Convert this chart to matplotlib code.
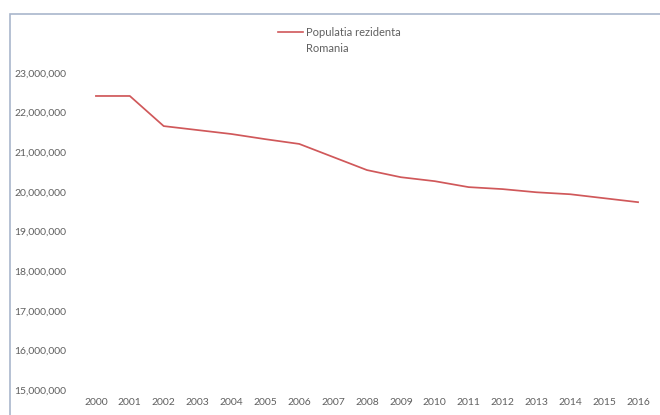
import matplotlib.pyplot as plt
from matplotlib.lines import Line2D
from matplotlib.patches import Rectangle
from matplotlib.ticker import FuncFormatter

plt.rcParams['font.family'] = ['Lato', 'DejaVu Sans']

years = list(range(2000, 2017))
populatie = [22.42e6, 22.42e6, 21.66e6, 21.56e6, 21.46e6, 21.33e6, 21.21e6,
             20.88e6, 20.55e6, 20.37e6, 20.27e6, 20.12e6, 20.07e6, 19.99e6,
             19.94e6, 19.84e6, 19.74e6]
yticks = [15e6, 16e6, 17e6, 18e6, 19e6, 20e6, 21e6, 22e6, 23e6]

W, H = 660, 415
fig = plt.figure(figsize=(6.6, 4.15), dpi=100)

# chart border (runs off bottom/right like the scan)
fig.add_artist(Rectangle((10 / W, -0.05), 1.1, 1 - 14 / H + 0.05,
                         transform=fig.transFigure, fill=False,
                         edgecolor='#a9b6cc', linewidth=1.2))

ax = fig.add_axes([79 / W, 1 - 390 / H, 576 / W, 317 / H])
line_col = '#d0585a'
txt_col = '#606060'

ax.plot(years, populatie, color=line_col, linewidth=1.25)
ax.set_xlim(1999.5, 2016.5)
ax.set_ylim(15e6, 23e6)
ax.set_xticks(years)
ax.set_yticks(yticks)
ax.yaxis.set_major_formatter(FuncFormatter(lambda v, p: f"{int(v):,}"))
for s in ax.spines.values():
    s.set_visible(False)
ax.tick_params(length=0, labelsize=7.5, labelcolor=txt_col)
ax.tick_params(axis='x', pad=6)
ax.tick_params(axis='y', pad=9)

# legend
fig.add_artist(Line2D([278 / W, 303 / W], [1 - 32 / H, 1 - 32 / H],
                      transform=fig.transFigure, color=line_col, linewidth=1.2))
fig.text(306 / W, 1 - 32 / H, 'Populatia rezidenta', fontsize=8,
         color=txt_col, va='center', ha='left')
fig.text(306 / W, 1 - 48 / H, 'Romania', fontsize=8,
         color=txt_col, va='center', ha='left')

fig.savefig('out.png', dpi=100)
